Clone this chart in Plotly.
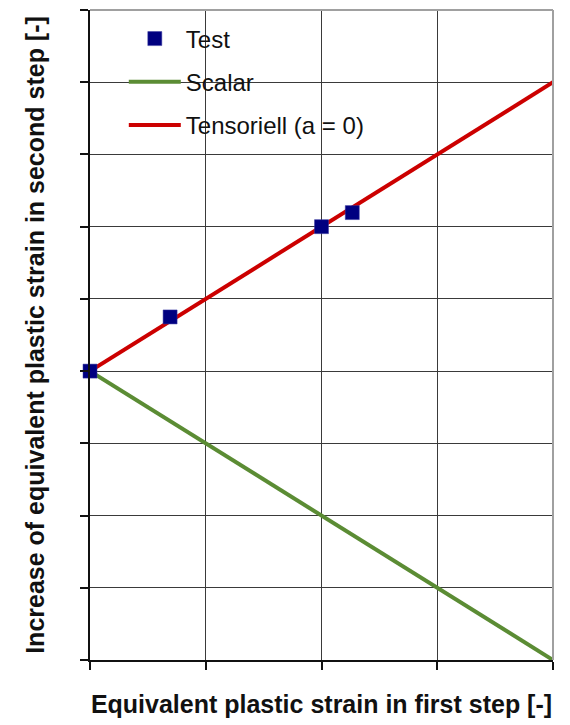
import plotly.graph_objects as go

# Equivalent plastic strain in the first step and the increase in the second step
test_x = [0.0, 0.0346, 0.100, 0.1133]
test_y = [0.080, 0.095, 0.120, 0.1239]

scalar_x = [0.0, 0.2]
scalar_y = [0.08, 0.0]

tensor_x = [0.0, 0.2]
tensor_y = [0.08, 0.16]

FONT = "Arial, 'Liberation Sans', sans-serif"

fig = go.Figure()

fig.add_trace(go.Scatter(
    x=scalar_x, y=scalar_y, mode="lines", name="Scalar",
    line=dict(color="#5b8c34", width=4),
    legendgroup="b", legendrank=2,
))
fig.add_trace(go.Scatter(
    x=tensor_x, y=tensor_y, mode="lines", name="Tensoriell (a = 0)",
    line=dict(color="#cc0000", width=4),
    legendgroup="c", legendrank=3,
))
fig.add_trace(go.Scatter(
    x=test_x, y=test_y, mode="markers", name="Test",
    marker=dict(symbol="square", size=14, color="#000080",
                line=dict(color="#3a3aa0", width=0.5)),
    cliponaxis=False, legendgroup="a", legendrank=1,
))

# white panel behind the legend entries
fig.add_shape(type="rect", xref="x domain", yref="y domain",
              x0=0.043, x1=0.626, y0=0.786, y1=0.994,
              fillcolor="white", line=dict(width=0), layer="below")

# lighter frame on the top and right sides
fig.add_shape(type="line", xref="paper", yref="paper", x0=0, x1=1, y0=1, y1=1,
              line=dict(color="#a0a0a0", width=2))
fig.add_shape(type="line", xref="paper", yref="paper", x0=1, x1=1, y0=0, y1=1,
              line=dict(color="#a0a0a0", width=2))

axis_common = dict(
    showgrid=True, gridcolor="#3a3a3a", gridwidth=1.3,
    showline=True, linecolor="#111111", linewidth=2,
    ticks="outside", ticklen=8, tickcolor="#111111", tickwidth=1.5,
    showticklabels=False, zeroline=False,
)

fig.update_layout(
    width=570, height=725,
    margin=dict(l=90, r=17, t=10, b=65),
    paper_bgcolor="white", plot_bgcolor="white",
    font=dict(family=FONT, color="#111111"),
    xaxis=dict(range=[0, 0.2], dtick=0.05, **axis_common,
               title=dict(text="<b>Equivalent plastic strain in first step [-]</b>",
                          font=dict(size=25, family=FONT), standoff=26)),
    yaxis=dict(range=[0, 0.18], dtick=0.02, **axis_common,
               title=dict(text="<b>Increase of equivalent plastic strain in second step [-]</b>",
                          font=dict(size=25, family=FONT), standoff=28)),
    legend=dict(x=0.073, y=0.99, xanchor="left", yanchor="top",
                bgcolor="rgba(0,0,0,0)", borderwidth=0,
                font=dict(size=24, family=FONT, color="#111111"),
                itemwidth=52,
                traceorder="grouped", tracegroupgap=9),
    showlegend=True,
)

fig.write_html("out.html")
